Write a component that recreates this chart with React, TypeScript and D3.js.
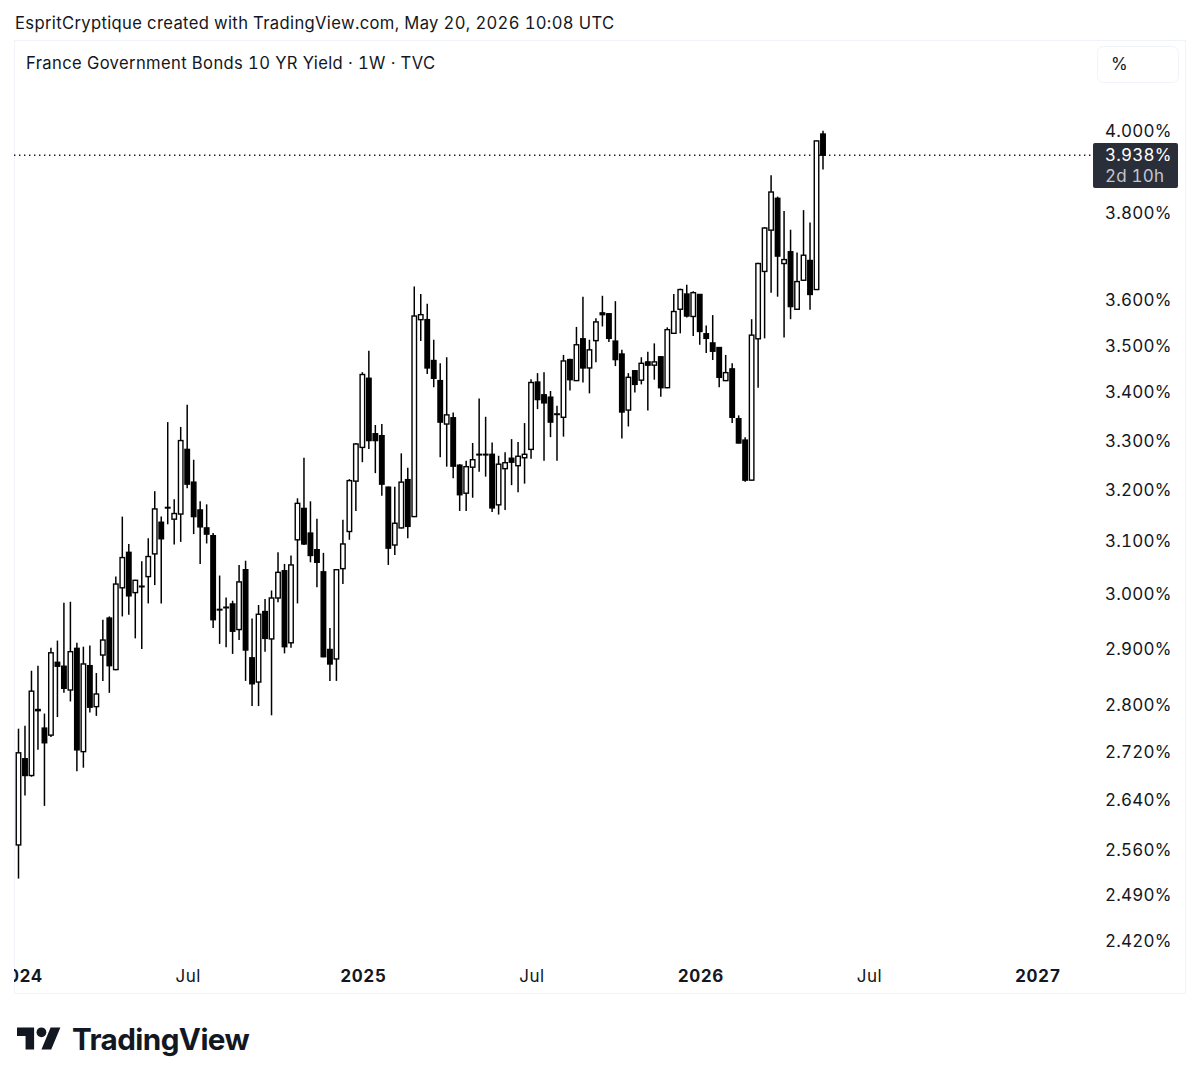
import React from 'react'
import * as d3 from 'd3'

// weekly candles, week of 2024-01-01 through week of 2026-05-18
const opens = [
  2.567, 2.708, 2.680, 2.790, 2.760, 2.748, 2.875, 2.868, 2.826, 2.900, 2.720, 2.869, 2.797, 2.888, 2.955, 2.862,
  3.011, 3.078, 3.002, 3.013, 3.032, 3.075, 3.136, 3.164, 3.142, 3.152, 3.281, 3.215, 3.160, 3.125, 3.110, 2.970,
  2.974, 2.981, 2.934, 3.045, 2.883, 2.840, 2.967, 2.917, 2.992, 3.043, 2.910, 3.102, 3.163, 3.115, 3.083, 3.041,
  2.898, 2.881, 3.047, 3.118, 3.217, 3.285, 3.429, 3.313, 3.309, 3.205, 3.092, 3.125, 3.220, 3.147, 3.556, 3.556,
  3.467, 3.424, 3.333, 3.346, 3.249, 3.193, 3.245, 3.270, 3.270, 3.271, 3.170, 3.242, 3.263, 3.248, 3.264, 3.281,
  3.421, 3.394, 3.389, 3.353, 3.347, 3.469, 3.424, 3.514, 3.451, 3.510, 3.571, 3.569, 3.509, 3.481, 3.362, 3.445,
  3.425, 3.464, 3.457, 3.475, 3.409, 3.526, 3.579, 3.613, 3.563, 3.612, 3.525, 3.505, 3.495, 3.424, 3.449, 3.344,
  3.300, 3.219, 3.514, 3.664, 3.759, 3.834, 3.682, 3.709, 3.579, 3.644, 3.689, 3.623, 3.990,
]
const highs = [
  2.759, 2.764, 2.860, 2.869, 2.785, 2.901, 2.914, 2.983, 2.985, 2.910, 2.903, 2.905, 2.856, 2.952, 2.958, 3.032,
  3.147, 3.094, 3.026, 3.061, 3.105, 3.197, 3.147, 3.337, 3.181, 3.327, 3.373, 3.260, 3.177, 3.171, 3.115, 3.034,
  2.993, 2.987, 3.054, 3.062, 2.954, 2.979, 2.990, 3.006, 3.078, 3.056, 3.072, 3.183, 3.264, 3.177, 3.143, 3.077,
  2.937, 3.046, 3.141, 3.221, 3.294, 3.442, 3.488, 3.331, 3.333, 3.206, 3.206, 3.273, 3.244, 3.630, 3.613, 3.591,
  3.512, 3.461, 3.474, 3.357, 3.251, 3.258, 3.294, 3.386, 3.348, 3.295, 3.268, 3.275, 3.302, 3.296, 3.335, 3.427,
  3.440, 3.442, 3.402, 3.371, 3.479, 3.471, 3.540, 3.607, 3.512, 3.559, 3.609, 3.570, 3.597, 3.490, 3.440, 3.446,
  3.474, 3.486, 3.504, 3.476, 3.539, 3.613, 3.625, 3.634, 3.619, 3.613, 3.543, 3.566, 3.495, 3.479, 3.461, 3.351,
  3.306, 3.557, 3.684, 3.766, 3.889, 3.838, 3.804, 3.760, 3.707, 3.806, 3.777, 3.974, 3.998,
]
const lows = [
  2.514, 2.647, 2.678, 2.723, 2.630, 2.745, 2.779, 2.821, 2.806, 2.687, 2.693, 2.787, 2.781, 2.842, 2.821, 2.861,
  2.958, 2.961, 2.918, 2.899, 2.982, 3.016, 2.982, 3.132, 3.093, 3.098, 3.203, 3.113, 3.056, 3.095, 2.937, 2.908,
  2.902, 2.890, 2.915, 2.842, 2.798, 2.798, 2.894, 2.782, 2.984, 2.891, 2.901, 2.982, 3.092, 3.059, 3.012, 2.884,
  2.842, 2.842, 3.018, 3.102, 3.158, 3.255, 3.282, 3.233, 3.188, 3.054, 3.073, 3.124, 3.105, 3.146, 3.509, 3.438,
  3.410, 3.265, 3.246, 3.223, 3.158, 3.158, 3.184, 3.236, 3.226, 3.156, 3.151, 3.160, 3.209, 3.195, 3.212, 3.262,
  3.364, 3.258, 3.306, 3.258, 3.307, 3.403, 3.423, 3.420, 3.397, 3.463, 3.541, 3.507, 3.455, 3.303, 3.328, 3.399,
  3.416, 3.361, 3.426, 3.390, 3.408, 3.525, 3.526, 3.561, 3.520, 3.501, 3.483, 3.468, 3.410, 3.423, 3.335, 3.293,
  3.216, 3.218, 3.409, 3.515, 3.616, 3.607, 3.517, 3.557, 3.578, 3.643, 3.578, 3.622, 3.903,
]
const closes = [
  2.718, 2.680, 2.824, 2.792, 2.735, 2.892, 2.868, 2.829, 2.894, 2.723, 2.872, 2.796, 2.819, 2.915, 2.869, 3.018,
  3.068, 2.996, 3.025, 3.014, 3.070, 3.162, 3.104, 3.165, 3.153, 3.299, 3.211, 3.147, 3.127, 3.113, 2.952, 2.971,
  2.975, 2.931, 3.022, 2.897, 2.837, 2.962, 2.918, 2.992, 3.040, 2.903, 3.054, 3.173, 3.094, 3.072, 3.059, 2.885,
  2.872, 3.045, 3.094, 3.218, 3.292, 3.437, 3.299, 3.299, 3.211, 3.086, 3.134, 3.215, 3.128, 3.564, 3.567, 3.451,
  3.429, 3.337, 3.352, 3.247, 3.190, 3.246, 3.260, 3.271, 3.271, 3.164, 3.251, 3.254, 3.255, 3.267, 3.271, 3.420,
  3.384, 3.377, 3.337, 3.354, 3.466, 3.426, 3.501, 3.451, 3.490, 3.551, 3.567, 3.515, 3.469, 3.358, 3.431, 3.416,
  3.461, 3.457, 3.464, 3.409, 3.534, 3.574, 3.623, 3.564, 3.616, 3.530, 3.515, 3.487, 3.431, 3.441, 3.347, 3.294,
  3.219, 3.522, 3.682, 3.764, 3.849, 3.699, 3.691, 3.585, 3.641, 3.701, 3.612, 3.973, 3.938,
]

const lastPrice = 3.938
const priceTicks = [4, 3.8, 3.6, 3.5, 3.4, 3.3, 3.2, 3.1, 3, 2.9, 2.8, 2.72, 2.64, 2.56, 2.49, 2.42]
const timeTicks = [
  { date: '2024-01-01', label: '2024', bold: true },
  { date: '2024-07-01', label: 'Jul', bold: false },
  { date: '2025-01-06', label: '2025', bold: true },
  { date: '2025-07-07', label: 'Jul', bold: false },
  { date: '2026-01-05', label: '2026', bold: true },
  { date: '2026-07-06', label: 'Jul', bold: false },
  { date: '2027-01-04', label: '2027', bold: true },
]

const weeks = d3.utcMonday.range(new Date('2024-01-01'), new Date('2026-05-19'))

const FONT = 'Inter, "Noto Sans", sans-serif'
const AXIS_SPACING = 0.2

export default function App() {
  const x = d3.scaleUtc().domain([weeks[0], weeks[weeks.length - 1]]).range([18.5, 823])
  const y = d3.scaleLog().domain([4, 2.42]).range([130, 940])
  const bodyW = 4.5

  return (
    <svg
      width={1200}
      height={1083}
      viewBox="0 0 1200 1083"
      style={{ position: 'absolute', left: 0, top: 0, background: '#fff', fontVariantNumeric: 'tabular-nums' }}
      fontFamily={FONT}
    >
      <defs>
        <clipPath id="pane">
          <rect x={14} y={40} width={1172} height={954} />
        </clipPath>
      </defs>

      <text x={15} y={29} fontSize={16.6} letterSpacing={0.35} fill="#131722">
        EspritCryptique created with TradingView.com, May 20, 2026 10:08 UTC
      </text>

      <rect x={14.5} y={40.5} width={1171} height={953} fill="none" stroke="#f0f3fa" />

      <text x={26} y={68.5} fontSize={16.6} letterSpacing={0.37} fill="#131722">
        France Government Bonds 10 YR Yield · 1W · TVC
      </text>

      <rect x={1097.5} y={46.5} width={81} height={36} rx={6} fill="#fff" stroke="#f0f3fa" />
      <text x={1111} y={70} fontSize={17} fill="#131722">%</text>

      <line
        x1={14}
        x2={1093}
        y1={y(lastPrice)}
        y2={y(lastPrice)}
        stroke="#131722"
        strokeWidth={1.4}
        strokeDasharray="1.4 3.6"
      />

      {weeks.map((d, i) => {
        const up = closes[i] >= opens[i]
        const top = y(Math.max(opens[i], closes[i]))
        const bottom = y(Math.min(opens[i], closes[i]))
        const cx = x(d)
        return (
          <g key={i}>
            <line x1={cx} x2={cx} y1={y(highs[i])} y2={y(lows[i])} stroke="#000" strokeWidth={1.5} />
            <rect
              x={cx - bodyW / 2}
              y={top}
              width={bodyW}
              height={Math.max(bottom - top, 0.6)}
              fill={up ? '#fff' : '#000'}
              stroke="#000"
              strokeWidth={1.4}
            />
          </g>
        )
      })}

      {priceTicks.map((t) => (
        <text key={t} x={1105} y={y(t) + 6.5} fontSize={17} letterSpacing={AXIS_SPACING} fill="#131722">
          {t.toFixed(3)}%
        </text>
      ))}

      <rect x={1093} y={143} width={85} height={45} rx={2} fill="#2a2e39" />
      <text x={1105} y={161} fontSize={17} letterSpacing={AXIS_SPACING} fill="#fff">{lastPrice.toFixed(3)}%</text>
      <text x={1105} y={182} fontSize={17} letterSpacing={AXIS_SPACING} fill="#c3c6ce">2d 10h</text>

      <g clipPath="url(#pane)">
        {timeTicks.map((t) => (
          <text
            key={t.date}
            x={x(new Date(t.date)) + 1}
            y={981.5}
            fontSize={17}
            fontWeight={t.bold ? 700 : 400}
            letterSpacing={0.55}
            textAnchor="middle"
            fill="#131722"
          >
            {t.label}
          </text>
        ))}
      </g>

      <g transform="translate(17 1022.5) scale(1.222)" fill="#131722">
        <path d="M14 22H7V11H0V4h14v18zM28 22h-8l7.5-18h8L28 22z" />
        <circle cx={20} cy={8} r={4} />
      </g>
      <text x={72} y={1049.5} fontSize={29.7} fontWeight={700} letterSpacing={-0.6} fill="#131722">
        TradingView
      </text>
    </svg>
  )
}
